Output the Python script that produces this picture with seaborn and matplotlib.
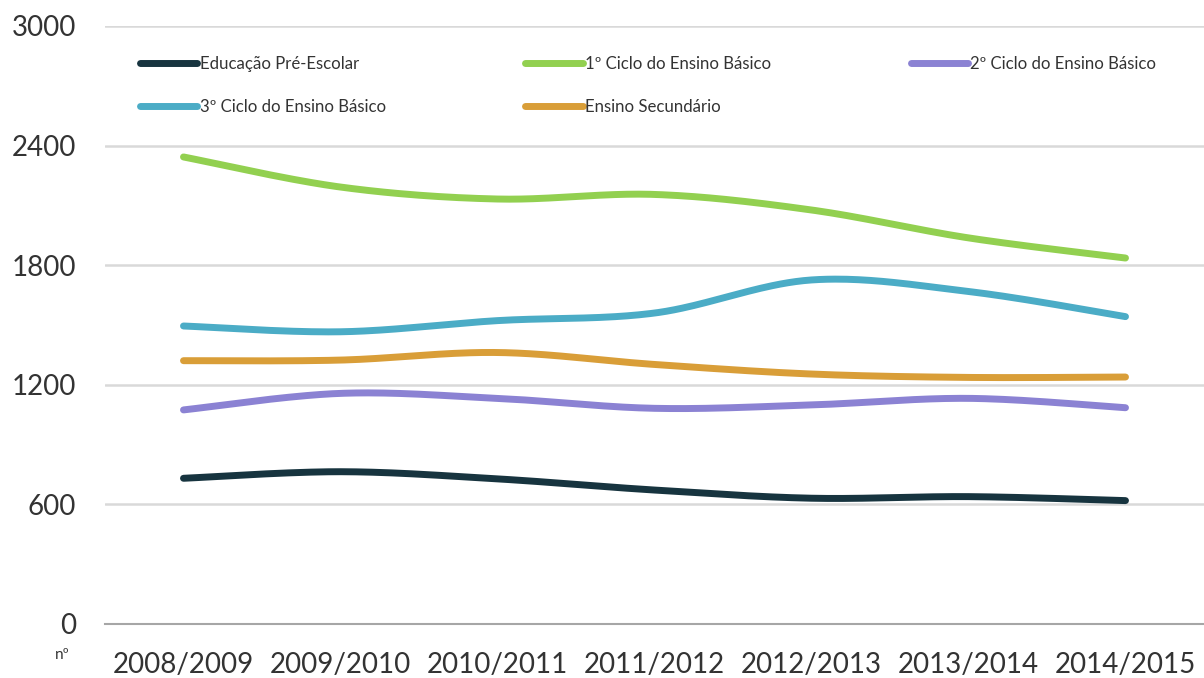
import numpy as np
import pandas as pd
import seaborn as sns
import matplotlib.pyplot as plt
from matplotlib.ticker import FixedLocator

# dados (nº por ano letivo)
anos = ["2008/2009", "2009/2010", "2010/2011", "2011/2012", "2012/2013", "2013/2014", "2014/2015"]
pre_escolar = [731, 764, 728, 672, 631, 639, 619]
ciclo_1 = [2343, 2192, 2132, 2155, 2077, 1937, 1836]
ciclo_2 = [1074, 1157, 1132, 1082, 1099, 1132, 1085]
ciclo_3 = [1495, 1466, 1522, 1560, 1726, 1668, 1542]
secundario = [1321, 1324, 1362, 1302, 1254, 1237, 1239]

series = {
    "Educação Pré-Escolar": pre_escolar,
    "1º Ciclo do Ensino Básico": ciclo_1,
    "2º Ciclo do Ensino Básico": ciclo_2,
    "3º Ciclo do Ensino Básico": ciclo_3,
    "Ensino Secundário": secundario,
}
cores = {
    "Educação Pré-Escolar": "#17343f",
    "1º Ciclo do Ensino Básico": "#92d050",
    "2º Ciclo do Ensino Básico": "#8b82d3",
    "3º Ciclo do Ensino Básico": "#4bacc6",
    "Ensino Secundário": "#d99e38",
}


# linha suavizada (bezier tipo Excel) entre os pontos
def suavizar(vals, n=40):
    y = np.asarray(vals, float)
    x = np.arange(len(y), dtype=float)
    py = np.concatenate([[y[0]], y, [y[-1]]])
    px = np.concatenate([[x[0]], x, [x[-1]]])
    xs, ys = [], []
    for i in range(len(y) - 1):
        t = np.linspace(0, 1, n, endpoint=(i == len(y) - 2))
        for p, out in ((px, xs), (py, ys)):
            p0, p1, p2, p3 = p[i], p[i + 1], p[i + 2], p[i + 3]
            c1 = p1 + (p2 - p0) / 6
            c2 = p2 - (p3 - p1) / 6
            out.append((1 - t) ** 3 * p1 + 3 * (1 - t) ** 2 * t * c1
                       + 3 * (1 - t) * t ** 2 * c2 + t ** 3 * p2)
    return np.concatenate(xs), np.concatenate(ys)


linhas = []
for nome, vals in series.items():
    xs, ys = suavizar(vals)
    linhas.append(pd.DataFrame({"x": xs, "valor": ys, "nivel": nome}))
df = pd.concat(linhas, ignore_index=True)

sns.set_style("white")
plt.rcParams["font.family"] = ["Lato", "DejaVu Sans"]

fig = plt.figure(figsize=(12.04, 6.78), dpi=100)
ax = fig.add_axes([105 / 1204, 54 / 678, 1099 / 1204, 598 / 678])

sns.lineplot(data=df, x="x", y="valor", hue="nivel", palette=cores, sort=False,
             estimator=None, linewidth=5, ax=ax, legend=True)
for l in ax.lines:
    l.set_solid_capstyle("round")

ax.set_xlim(-0.5, 6.5)
ax.set_ylim(0, 3000)
ax.set_yticks(range(0, 3001, 600))
ax.yaxis.grid(True, color="#d9d9d9", linewidth=1.8)
ax.set_axisbelow(True)
ax.set_xticks(range(len(anos)))
ax.set_xticklabels(anos)
ax.xaxis.set_minor_locator(FixedLocator(np.arange(-0.5, 7, 1)))
ax.tick_params(axis="x", which="major", length=0, pad=20, labelsize=20, labelcolor="#333333")
ax.tick_params(axis="x", which="minor", length=6, width=1.5, color="#a6a6a6", direction="out")
ax.tick_params(axis="y", length=0, pad=21, labelsize=20, labelcolor="#333333")
ax.set_xlabel("")
ax.set_ylabel("")
for s in ["left", "right", "top"]:
    ax.spines[s].set_visible(False)
ax.spines["bottom"].set_color("#a6a6a6")
ax.spines["bottom"].set_linewidth(1.5)

# legenda em 3 colunas (preenchida por coluna)
handles, labels = ax.get_legend_handles_labels()
ordem = [0, 3, 1, 4, 2]
leg = ax.legend([handles[i] for i in ordem], [labels[i] for i in ordem], ncol=3,
                loc="upper left", bbox_to_anchor=(0.032, 0.95), frameon=False,
                fontsize=12.1, handlelength=3.4, handletextpad=0.15,
                columnspacing=8.3, labelspacing=1.6, borderpad=0, borderaxespad=0)
for h in leg.get_lines():
    h.set_linewidth(5)
    h.set_solid_capstyle("round")
for t in leg.get_texts():
    t.set_color("#333333")

fig.text(62 / 1204, 1 - 655 / 678, "nº", fontsize=11, color="#333333", ha="center", va="center")

fig.savefig("out.png", dpi=100)
